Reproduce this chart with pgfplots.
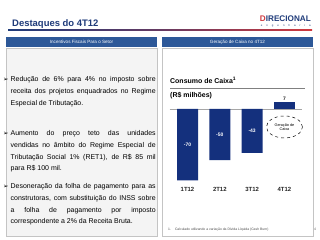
\documentclass[border=0pt]{standalone}
\usepackage{pgfplots}
\pgfplotsset{compat=1.18}
\usepackage{fontspec}
\setmainfont{Liberation Sans}
\newfontfamily\symfont{DejaVu Sans}
\definecolor{titleblue}{HTML}{1F3B7A}
\definecolor{headblue}{HTML}{2D5898}
\definecolor{barblue}{HTML}{14307D}
\definecolor{logored}{HTML}{D0393E}
\definecolor{panelfill}{HTML}{F4F4F4}
\definecolor{panelline}{HTML}{C4C4C4}
\newcommand{\fl}[1]{\makebox[145bp][s]{#1}}
\begin{document}
\begin{tikzpicture}[x=1bp,y=1bp]
\useasboundingbox (0,0) rectangle (320,240);
\fill[white] (0,0) rectangle (320,240);
% title
\node[anchor=base west, inner sep=0, text=titleblue, font=\fontsize{9.5}{11}\selectfont\bfseries] at (12,214) {Destaques do 4T12};
% logo
\node[anchor=base east, inner sep=0, text=titleblue, font=\fontsize{8.2}{9}\selectfont\bfseries] at (311,218.5) {\textcolor{logored}{D}IRECIONAL};
\node[anchor=base east, inner sep=0, text=titleblue, font=\fontsize{2.8}{3}\selectfont] at (311,214) {\makebox[50bp][s]{e n g e n h a r i a}};
% gradient line
\shade[left color=titleblue, right color=logored, middle color=titleblue!60!logored] (8,209.4) rectangle (312,210.6);
% headers
\fill[headblue] (6,193) rectangle (157,203);
\fill[headblue] (162,193) rectangle (313,203);
\node[text=white, inner sep=0, font=\fontsize{4.6}{5}\selectfont] at (81.5,198) {Incentivos Fiscais Para o Setor};
\node[text=white, inner sep=0, font=\fontsize{4.6}{5}\selectfont] at (237.5,198) {Geração de Caixa no 4T12};
% panels
\draw[panelline, fill=panelfill, line width=0.6bp] (6,4) rectangle (157,192);
\draw[panelline, fill=white, line width=0.6bp] (162,4) rectangle (313,192);
% left bullets (anchored at the baseline of the last line)
\begin{scope}[every node/.style={anchor=base west, inner sep=0, align=left, font=\fontsize{7}{11.8}\selectfont}]
\node at (10.5,134.9) {\fl{Redução de 6\% para 4\% no imposto sobre}\\\fl{receita dos projetos enquadrados no Regime}\\Especial de Tributação.};
\node at (10.5,69.1) {\fl{Aumento do preço teto das unidades}\\\fl{vendidas no âmbito do Regime Especial de}\\\fl{Tributação Social 1\% (RET1), de R\$ 85 mil}\\para R\$ 100 mil.};
\node at (10.5,16.1) {\fl{Desoneração da folha de pagamento para as}\\\fl{construtoras, com substituição do INSS sobre}\\\fl{a folha de pagamento por imposto}\\correspondente a 2\% da Receita Bruta.};
\end{scope}
\begin{scope}[every node/.style={anchor=base west, inner sep=0, font=\fontsize{6.5}{7}\selectfont\symfont}]
\node at (3,158.5) {➢};
\node at (3,104.5) {➢};
\node at (3,51.5) {➢};
\end{scope}
% right panel texts
\node[anchor=base west, inner sep=0, font=\fontsize{7}{8}\selectfont\bfseries] at (170,156.5) {Consumo de Caixa\textsuperscript{1}};
\draw[gray, line width=0.5bp] (170,152) -- (305,152);
\node[anchor=base west, inner sep=0, font=\fontsize{7}{8}\selectfont\bfseries] at (170,143) {(R\$ milhões)};
\node[anchor=base west, inner sep=0, text=black!70, font=\fontsize{3.4}{4}\selectfont] at (168,9.5) {1.\hspace{4bp}Calculado utilizando a variação da Dívida Líquida (Cash Burn)};
\node[anchor=base west, inner sep=0, text=black!60, font=\fontsize{3.5}{4}\selectfont] at (314,9.5) {4};
% chart
\begin{axis}[
  at={(187.5bp,131bp)}, anchor=origin,
  scale only axis, width=132.5bp, height=91.8bp,
  xmin=-0.55, xmax=3.55, ymin=-75, ymax=15,
  axis line style={draw=none}, major tick length=0,
  ytick=\empty, xtick={0,1,2,3},
  xticklabels={1T12,2T12,3T12,4T12},
  xticklabel style={anchor=center, yshift=-3.5bp, font=\fontsize{6}{7}\selectfont\bfseries, text=black!85},
  clip=false,
  /pgf/number format/assume math mode=true,
]
\draw[gray!70, line width=0.6bp] (axis cs:-0.55,0) -- (axis cs:3.55,0);
\addplot[ybar, bar width=21bp, bar shift=0pt, fill=barblue, draw=none,
  visualization depends on={rawy \as \rawy},
  nodes near coords,
  every node near coord/.append style={anchor=center, text=white, inner sep=0, font=\fontsize{5}{6}\selectfont\bfseries, yshift={-0.51*(\rawy)*1bp}}]
  coordinates {(0,-70) (1,-50) (2,-43)};
\addplot[ybar, bar width=21bp, bar shift=0pt, fill=barblue, draw=none,
  nodes near coords,
  every node near coord/.append style={anchor=south, text=black!85, inner sep=1.5bp, font=\fontsize{5}{6}\selectfont\bfseries}]
  coordinates {(3,7)};
\draw[dashed, line width=0.5bp] (axis cs:3,-17.6) ellipse [x radius=18bp, y radius=11bp];
\node[align=center, font=\fontsize{3.8}{4.4}\selectfont, inner sep=0] at (axis cs:3,-17.6) {Geração de\\Caixa};
\end{axis}
\end{tikzpicture}
\end{document}
